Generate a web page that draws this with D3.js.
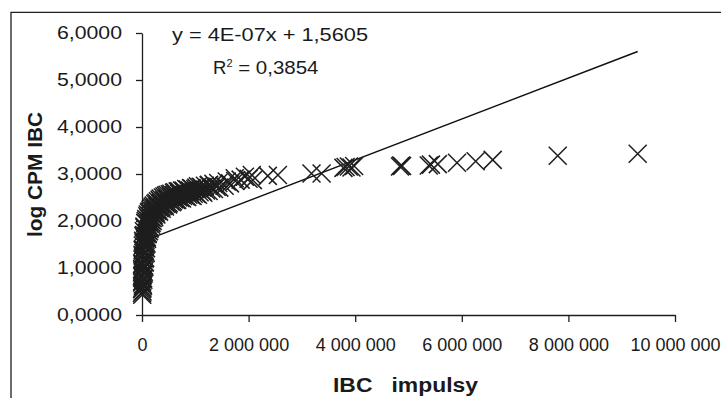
<!DOCTYPE html>
<html><head><meta charset="utf-8">
<script src="https://cdn.jsdelivr.net/npm/d3@7"></script>
<style>
body{margin:0;background:#fff}
svg{display:block}
text{font-family:"Liberation Sans",Arial,sans-serif;fill:#1a1a1a}
</style>
</head><body>
<svg id="c" width="721" height="398"></svg>
<script>
// IBC impulses (x) and log CPM IBC (y)
const ibcImpulsy = [5000,10000,8000,15000,4000,20000,12000,30000,6000,25000,40000,10000,35000,50000,15000,45000,60000,20000,55000,70000,30000,65000,80000,40000,90000,110000,50000,120000,140000,70000,170000,200000,100000,220000,130000,260000,160000,300000,200000,360000,250000,420000,300000,500000,350000,580000,420000,660000,480000,750000,550000,850000,620000,950000,700000,1050000,780000,1150000,860000,1250000,940000,1350000,1020000,1450000,1100000,1550000,1180000,1650000,1260000,1750000,1340000,1850000,1430000,1590000,1740000,1930000,2060000,2000000,2080000,2360000,2550000,3180000,3370000,3780000,3820000,3880000,3930000,3980000,4840000,4860000,4880000,5380000,5420000,5550000,5910000,6260000,6580000,7800000,9300000,
  0,2000,18000,1000,25000,3000,35000,2000,45000,5000,55000,8000,60000,10000,70000,12000,75000,15000,85000,20000,95000,25000,105000,35000,130000,45000,150000,60000,180000,
  80000,120000,150000,190000,110000,240000,140000,210000,280000,180000,250000,330000,220000,300000,390000,270000,350000,450000,330000,420000,530000,390000,480000,600000,450000,550000,680000,520000,630000,770000,600000,720000,870000,670000,800000,970000,750000,900000,1080000,830000,1000000,1200000,920000,1120000,1300000,1050000,1250000,1400000,
  30000,60000,90000,50000,110000,70000,140000,90000,170000,100000,200000,130000,230000,170000,270000,200000,320000,240000,370000,290000,430000,340000,490000,400000,560000,460000,640000,530000,720000,600000,820000,700000,920000,800000,1020000,900000,1130000];
const logCpmIbc = [0.43,0.50,0.58,0.65,0.72,0.78,0.85,0.88,0.95,1.00,1.05,1.10,1.15,1.20,1.25,1.30,1.35,1.40,1.45,1.50,1.55,1.60,1.65,1.70,1.75,1.80,1.85,1.90,1.95,2.00,2.02,2.06,2.10,2.12,2.18,2.18,2.24,2.24,2.30,2.30,2.36,2.34,2.42,2.38,2.48,2.42,2.52,2.45,2.56,2.48,2.58,2.51,2.61,2.53,2.63,2.56,2.65,2.60,2.67,2.64,2.69,2.68,2.71,2.71,2.73,2.75,2.75,2.80,2.77,2.85,2.79,2.88,2.81,2.84,2.91,2.94,2.98,2.90,2.87,2.96,2.98,3.01,3.01,3.13,3.15,3.16,3.14,3.17,3.16,3.18,3.17,3.18,3.20,3.21,3.24,3.27,3.30,3.39,3.43,
  0.47,0.55,0.62,0.69,0.75,0.82,0.92,0.98,1.02,1.08,1.12,1.18,1.22,1.28,1.32,1.38,1.42,1.48,1.52,1.58,1.62,1.68,1.72,1.78,1.78,1.88,1.86,1.96,1.96,
  2.04,2.06,2.10,2.14,2.14,2.16,2.20,2.20,2.22,2.27,2.27,2.27,2.33,2.33,2.32,2.39,2.39,2.37,2.45,2.44,2.42,2.50,2.48,2.46,2.54,2.53,2.50,2.57,2.56,2.53,2.60,2.59,2.56,2.63,2.62,2.58,2.65,2.65,2.61,2.68,2.68,2.65,2.70,2.72,2.69,2.74,2.76,2.73,
  1.52,1.56,1.66,1.64,1.74,1.74,1.83,1.82,1.92,1.93,2.00,2.00,2.08,2.08,2.14,2.16,2.20,2.23,2.26,2.30,2.31,2.36,2.35,2.42,2.40,2.47,2.45,2.51,2.49,2.55,2.52,2.58,2.55,2.61,2.58,2.63,2.63];
const xTicks = [0,2000000,4000000,6000000,8000000,10000000];
const yTicks = [0,1,2,3,4,5,6];
const trendCoef = [4.35e-7, 1.5605]; // slope, intercept (as drawn)
const equationText = ["y = 4E-07x + 1,5605", "0,3854"];
const xTitle = "IBC   impulsy";
const yTitle = "log CPM IBC";

const svg = d3.select("#c");
const ink = "#1e1e1e";

// outer frame (top and left edges visible)
svg.append("path").attr("d","M11,398V12.3H721").attr("fill","none").attr("stroke",ink).attr("stroke-width",1.3);

const x = d3.scaleLinear().domain([0,10000000]).range([142,675]);
const y = d3.scaleLinear().domain([0,6]).range([315,33]);

const loc = d3.formatLocale({decimal:",",thousands:" ",grouping:[3],currency:["",""]});
const fx = loc.format(",d");
const fy = loc.format(".4f");

const gx = svg.append("g").attr("transform","translate(0,315)")
  .call(d3.axisBottom(x).tickValues(xTicks).tickFormat(fx).tickSize(7).tickSizeOuter(0).tickPadding(16));
const gy = svg.append("g").attr("transform","translate(142,0)")
  .call(d3.axisLeft(y).tickValues(yTicks).tickFormat(fy).tickSize(6).tickSizeOuter(0).tickPadding(14));

[gx,gy].forEach(g=>{
  g.select(".domain").attr("stroke",ink).attr("stroke-width",1.3);
  g.selectAll(".tick line").attr("stroke",ink).attr("stroke-width",1.3);
  g.selectAll("text").attr("font-family",'"Liberation Sans",Arial,sans-serif').attr("fill","#1a1a1a");
});
gx.selectAll("text").attr("font-size",18);
gy.selectAll("text").attr("font-size",18.5).attr("textLength",65).attr("lengthAdjust","spacingAndGlyphs");

// trendline
const xs = d3.extent(ibcImpulsy);
svg.append("path")
  .attr("d", d3.line().x(d=>x(d)).y(d=>y(trendCoef[0]*d+trendCoef[1]))(xs))
  .attr("stroke","#111").attr("stroke-width",1.5).attr("fill","none");

// markers
const pts = ibcImpulsy.map((v,i)=>[v,logCpmIbc[i]]);
svg.append("g").selectAll("path").data(pts).join("path")
  .attr("transform",d=>`translate(${x(d[0])},${y(d[1])})`)
  .attr("d","M-9,-9L9,9M-9,9L9,-9")
  .attr("stroke",ink).attr("stroke-width",1.5).attr("fill","none");

// equation
svg.append("text").attr("x",270).attr("y",41).attr("text-anchor","middle")
  .attr("font-size",18.5).attr("textLength",196).attr("lengthAdjust","spacingAndGlyphs")
  .text(equationText[0]);
const r2 = svg.append("text").attr("x",213).attr("y",73.5).attr("font-size",18.5);
r2.append("tspan").text("R");
r2.append("tspan").attr("font-size",11).attr("dy",-7).text("2");
r2.append("tspan").attr("dy",7).attr("textLength",86).attr("lengthAdjust","spacingAndGlyphs").text(" = " + equationText[1]);

// axis titles
svg.append("text").attr("x",405.5).attr("y",391.5).attr("text-anchor","middle")
  .attr("font-size",20).attr("font-weight","bold").attr("xml:space","preserve").style("white-space","pre")
  .attr("textLength",145).attr("lengthAdjust","spacingAndGlyphs").text(xTitle);
svg.append("text").attr("transform","translate(41.5,174.5) rotate(-90)").attr("text-anchor","middle")
  .attr("font-size",20).attr("font-weight","bold")
  .attr("textLength",125).attr("lengthAdjust","spacingAndGlyphs").text(yTitle);
</script>
</body></html>
